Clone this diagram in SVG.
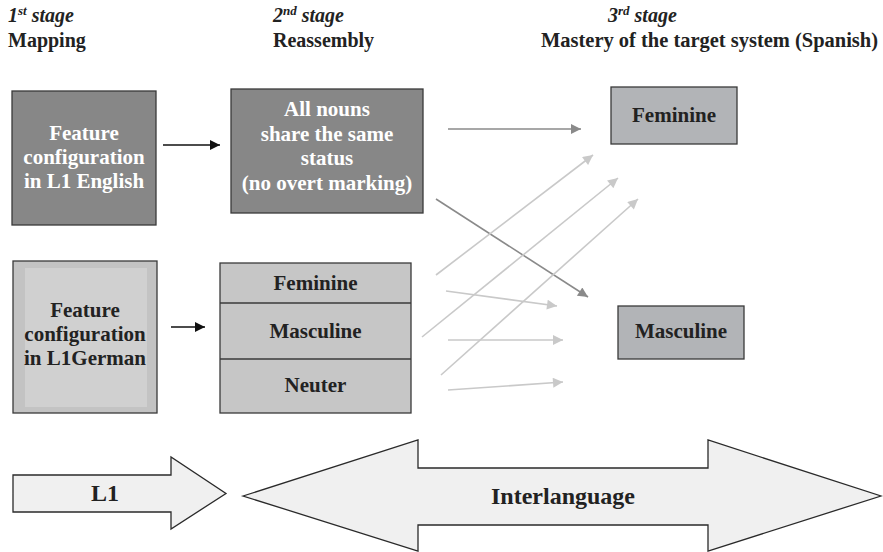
<svg xmlns="http://www.w3.org/2000/svg" width="883" height="552" viewBox="0 0 883 552" font-family="'Liberation Serif', 'DejaVu Serif', serif">
<style>
text{font-family:'Liberation Serif','DejaVu Serif',serif;font-weight:bold;fill:#222;}
.hd{font-size:20px;font-style:italic;}
.ti{font-size:20px;}
.bx{font-size:21px;text-anchor:middle;}
.wt{fill:#ffffff;}
.box{stroke:#3a3a3a;stroke-width:1.3;}
.dark{fill:#878787;}
.mid{fill:#b2b4b7;}
.lite{fill:#c6c6c6;}
.big{fill:#f0f0f0;stroke:#2a2a2a;stroke-width:1.3;}
.cb{stroke:#111;stroke-width:1.5;fill:none;}
.cd{stroke:#8a8a8a;stroke-width:1.6;fill:none;}
.cl{stroke:#c9c9c9;stroke-width:1.6;fill:none;}
</style>
<defs>
<marker id="hb" viewBox="0 0 10 10" refX="10" refY="5" markerWidth="12" markerHeight="10" markerUnits="userSpaceOnUse" orient="auto"><path d="M0,0 L10,5 L0,10 z" fill="#111"/></marker>
<marker id="hd" viewBox="0 0 10 10" refX="10" refY="5" markerWidth="12" markerHeight="10" markerUnits="userSpaceOnUse" orient="auto"><path d="M0,0 L10,5 L0,10 z" fill="#8a8a8a"/></marker>
<marker id="hl" viewBox="0 0 10 10" refX="10" refY="5" markerWidth="12" markerHeight="10" markerUnits="userSpaceOnUse" orient="auto"><path d="M0,0 L10,5 L0,10 z" fill="#c9c9c9"/></marker>
</defs>
<rect width="883" height="552" fill="#ffffff"/>

<g id="headers">
<text class="hd" x="8" y="22">1<tspan font-size="13" dy="-7">st</tspan><tspan dy="7"> stage</tspan></text>
<text class="ti" x="8" y="47">Mapping</text>
<text class="hd" x="273" y="22">2<tspan font-size="13" dy="-7">nd</tspan><tspan dy="7"> stage</tspan></text>
<text class="ti" x="273" y="47">Reassembly</text>
<text class="hd" x="608" y="22">3<tspan font-size="13" dy="-7">rd</tspan><tspan dy="7"> stage</tspan></text>
<text class="ti" x="541" y="47" textLength="337" lengthAdjust="spacingAndGlyphs">Mastery of the target system (Spanish)</text>
</g>

<g id="english">
<rect class="box dark" x="12" y="91" width="144" height="134"/>
<text class="bx wt" x="84" y="140">Feature</text>
<text class="bx wt" x="84" y="164">configuration</text>
<text class="bx wt" x="84" y="188">in L1 English</text>
</g>

<g id="allnouns">
<rect class="box dark" x="231" y="89" width="192" height="124"/>
<text class="bx wt" x="327" y="116">All nouns</text>
<text class="bx wt" x="327" y="141">share the same</text>
<text class="bx wt" x="327" y="165">status</text>
<text class="bx wt" x="327" y="190">(no overt marking)</text>
</g>

<g id="german">
<rect class="box" x="13" y="261" width="144" height="152" fill="#c3c3c3"/>
<rect x="25" y="268" width="122" height="139" fill="#d0d0d0"/>
<text class="bx" x="85" y="317">Feature</text>
<text class="bx" x="85" y="341">configuration</text>
<text class="bx" x="85" y="365">in L1German</text>
</g>

<g id="genders">
<rect class="box lite" x="220" y="263" width="191" height="150"/>
<line x1="220" y1="303" x2="411" y2="303" stroke="#3a3a3a" stroke-width="1.3"/>
<line x1="220" y1="359" x2="411" y2="359" stroke="#3a3a3a" stroke-width="1.3"/>
<text class="bx" x="315.5" y="290">Feminine</text>
<text class="bx" x="315.5" y="338">Masculine</text>
<text class="bx" x="315.5" y="392">Neuter</text>
</g>

<g id="feminine">
<rect class="box mid" x="611" y="87" width="126" height="57"/>
<text class="bx" x="674" y="122">Feminine</text>
</g>

<g id="masculine">
<rect class="box mid" x="618" y="306" width="126" height="53"/>
<text class="bx" x="681" y="338">Masculine</text>
</g>

<g id="connectors">
<line class="cb" x1="163" y1="145" x2="220" y2="145" marker-end="url(#hb)"/>
<line class="cb" x1="171" y1="327" x2="205" y2="327" marker-end="url(#hb)"/>
<line class="cd" x1="448" y1="129" x2="581" y2="129" marker-end="url(#hd)"/>
<line class="cd" x1="436" y1="199" x2="588" y2="297" marker-end="url(#hd)"/>
<line class="cl" x1="436" y1="275" x2="593" y2="155" marker-end="url(#hl)"/>
<line class="cl" x1="422" y1="337" x2="618" y2="178" marker-end="url(#hl)"/>
<line class="cl" x1="441" y1="375" x2="638" y2="199" marker-end="url(#hl)"/>
<line class="cl" x1="446" y1="291" x2="557" y2="306" marker-end="url(#hl)"/>
<line class="cl" x1="448" y1="340" x2="563" y2="340" marker-end="url(#hl)"/>
<line class="cl" x1="448" y1="390" x2="563" y2="382" marker-end="url(#hl)"/>
</g>

<g id="l1">
<path class="big" d="M13,475 L171,475 L171,457 L226,493.5 L171,529 L171,512 L13,512 Z"/>
<text x="105" y="501" font-size="24" text-anchor="middle">L1</text>
</g>

<g id="interlanguage">
<path class="big" d="M243,496 L418,440 L418,468 L708,468 L708,440 L881,496 L708,551 L708,525 L418,525 L418,551 Z"/>
<text x="563" y="504" font-size="24" text-anchor="middle">Interlanguage</text>
</g>
</svg>
